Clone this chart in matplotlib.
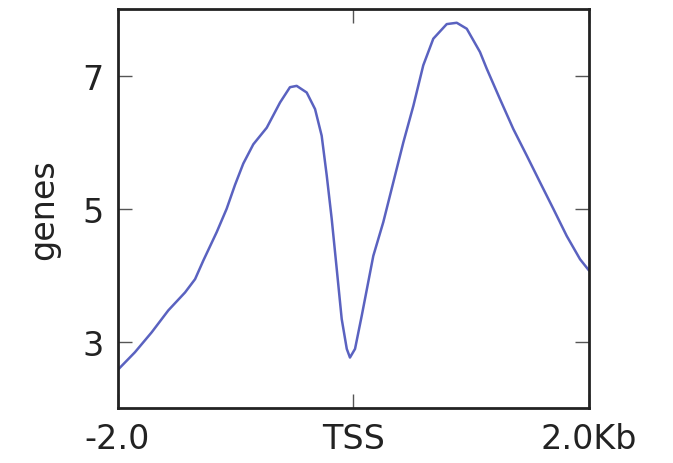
import matplotlib
matplotlib.use("Agg")
import matplotlib.pyplot as plt

positions_bp = [-2000, -1852, -1710, -1569, -1427, -1342, -1272, -1158, -1074, -1003,
                -933, -848, -734, -621, -537, -480, -395, -324, -268, -225,
                -183, -140, -98, -55, -28, 15, 72, 170, 255, 340,
                425, 510, 594, 679, 793, 878, 963, 1075, 1132, 1245,
                1358, 1472, 1584, 1697, 1811, 1924, 2000]
gene_values = [2.57, 2.84, 3.14, 3.47, 3.74, 3.94, 4.22, 4.65, 5.00, 5.36,
               5.68, 5.97, 6.22, 6.60, 6.83, 6.85, 6.75, 6.50, 6.10, 5.50,
               4.85, 4.09, 3.34, 2.89, 2.76, 2.89, 3.39, 4.29, 4.80, 5.40,
               6.00, 6.55, 7.16, 7.56, 7.78, 7.80, 7.71, 7.36, 7.11, 6.65,
               6.20, 5.80, 5.40, 5.00, 4.59, 4.24, 4.07]
xtick_pos = [-2000, 0, 2000]
xtick_labels = ["-2.0", "TSS", "2.0Kb"]
ytick_pos = [3, 5, 7]
ytick_labels = ["3", "5", "7"]

fig = plt.figure(figsize=(6.73, 4.64), dpi=100)
ax = fig.add_axes([0.1746, 0.1185, 0.7006, 0.8589])
ax.plot(positions_bp, gene_values, color="#5a62c0", lw=1.8,
        solid_joinstyle="round", solid_capstyle="round")
ax.set_xlim(-2000, 2000)
ax.set_ylim(2, 8)
ax.set_xticks(xtick_pos)
ax.set_xticklabels(xtick_labels)
ax.set_yticks(ytick_pos)
ax.set_yticklabels(ytick_labels)
ax.set_ylabel("genes", fontsize=24, color="#222222", labelpad=16)
ax.tick_params(direction="in", length=10, width=1, labelsize=24, colors="#555555",
               labelcolor="#222222", top=True, right=True, pad=10)
for s in ax.spines.values():
    s.set_linewidth(2)
    s.set_color("#222222")
fig.savefig("out.png", dpi=100)
